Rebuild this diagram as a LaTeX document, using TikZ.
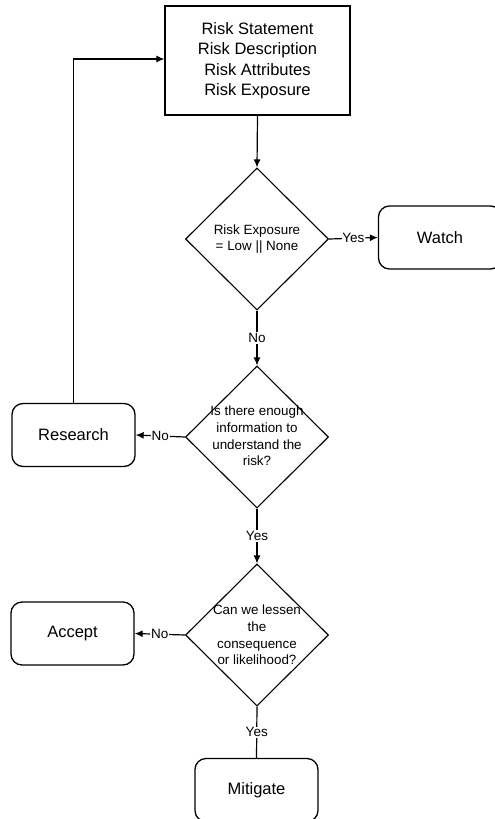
\documentclass[tikz,border=0pt]{standalone}
\usepackage{fontspec}
\setmainfont{Liberation Sans}
\usetikzlibrary{shapes.geometric,arrows.meta}

\tikzset{
  box/.style={draw=black, line width=1.3pt, rectangle, inner sep=0pt,
              minimum width=185pt, minimum height=109pt, align=center,
              font=\fontsize{16.5}{20.5}\selectfont},
  terminal/.style={draw=black, line width=1.3pt, rectangle, rounded corners=11pt,
              minimum width=123pt, minimum height=63pt, inner sep=0pt,
              font=\fontsize{16.5}{20}\selectfont},
  decision/.style={draw=black, line width=1.1pt, diamond, inner sep=0pt,
              minimum width=143pt, minimum height=142pt},
  dtext/.style={align=center, inner sep=0pt, font=\fontsize{13.4}{16.8}\selectfont},
  flow/.style={draw=black, line width=1.2pt, -{Latex[length=8pt,width=7pt]}},
  plain/.style={draw=black, line width=1.2pt},
  tag/.style={fill=white, inner sep=0.8pt, font=\fontsize{13.5}{14}\selectfont}
}

\begin{document}
\begin{tikzpicture}[x=1pt,y=1pt]
  \useasboundingbox (0,0) rectangle (495,-819);
  \clip (0,0) rectangle (495,-819);

  % statement box at the top
  \node[box] (info) at (257.5,-60.5)
    {\raisebox{-2pt}{\parbox{185pt}{\centering Risk Statement\\Risk Description\\Risk Attributes\\Risk Exposure}}};

  % decisions
  \node[decision] (d1) at (257,-239) {};
  \node[dtext, font=\fontsize{13.4}{15.5}\selectfont] (d1t) at (d1)
    {Risk Exposure\\= Low || None};

  \node[decision] (d2) at (257,-437) {};
  \node[dtext] (d2t) at (257,-436)
    {Is there enough\\information to\\understand the\\risk?};

  \node[decision] (d3) at (257,-635) {};
  \node[dtext] (d3t) at (257,-635)
    {Can we lessen\\the\\consequence\\or likelihood?};

  % outcomes
  \node[terminal] (watch)    at (440,-237.5) {Watch};
  \node[terminal] (research) at (73.5,-435)  {Research};
  \node[terminal] (accept)   at (72.5,-633.5) {Accept};
  \node[terminal] (mitigate) at (256.5,-790) {Mitigate};

  % connectors
  \draw[flow] (info.south) -- (d1.north);
  \draw[flow] (d1.east) -- node[tag] {Yes} (watch.west);
  \draw[flow] (d1.south) -- node[tag] {No} (d2.north);
  \draw[flow] (d2.west) -- node[tag] {No} (research.east);
  \draw[flow] (research.north) |- ([yshift=1.5pt]info.west);
  \draw[flow] (d2.south) -- node[tag] {Yes} (d3.north);
  \draw[flow] (d3.west) -- node[tag] {No} (accept.east);
  \draw[plain] (d3.south) -- node[tag] {Yes} (mitigate.north);
\end{tikzpicture}
\end{document}
